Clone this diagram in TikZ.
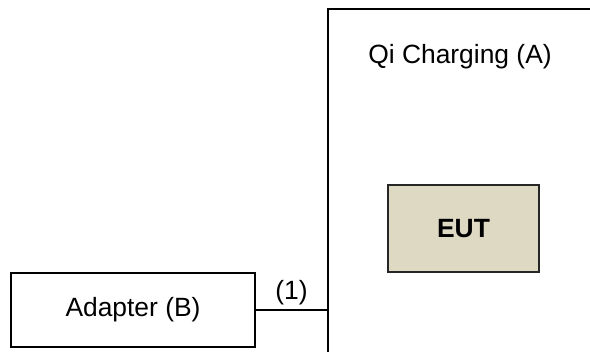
\documentclass[tikz,border=0pt]{standalone}
\usepackage{fontspec}
\setmainfont{Liberation Sans}
\usetikzlibrary{positioning}
\usetikzlibrary{calc}
\definecolor{euttan}{HTML}{DDD9C3}
\tikzstyle{box}=[rectangle,draw=black,line width=1.5pt,inner sep=0pt,font=\fontsize{19.8}{24}\selectfont]
\tikzstyle{eutbox}=[box,fill=euttan,draw=black!85,font=\fontsize{19.8}{24}\selectfont\bfseries]
\tikzstyle{cable} = [draw,line width=1.5pt]
\tikzstyle{lbl} = [font=\fontsize{19.8}{24}\selectfont]

\begin{document}
\begin{tikzpicture}[x=0.75pt,y=-0.75pt]

    \useasboundingbox (0,0) rectangle (590,352);
    \clip (0,0) rectangle (590,352);

    % charging area runs past the page edge
    \node[box,anchor=north west,minimum width=280pt,minimum height=294pt] (qi) at (327,8) {};
    \node[lbl] (title) at (460,57) {Qi Charging (A)};

    \node[eutbox,minimum width=113.25pt,minimum height=65.25pt] (eut) at (463.5,228.5) {EUT};
    \node[box,minimum width=183pt,minimum height=55.5pt] (adapter) at (133,310) {Adapter (B)};

    \path[cable] (adapter.east) -- node[lbl,above,inner sep=3pt] (one) {(1)} (adapter.east -| qi.west);

\end{tikzpicture}
\end{document}
